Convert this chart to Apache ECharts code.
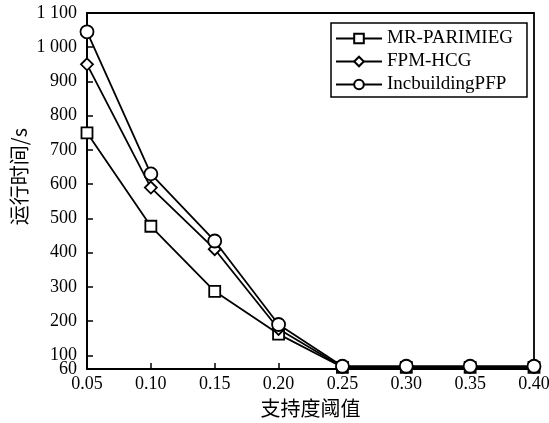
<!DOCTYPE html>
<html><head><meta charset="utf-8">
<script src="https://cdn.jsdelivr.net/npm/echarts@6/dist/echarts.min.js"></script>
<style>html,body{margin:0;padding:0;background:#fff}#c{width:549px;height:423px}</style>
</head><body><div id="c"></div>
<script>
const categories = ['0.05','0.10','0.15','0.20','0.25','0.30','0.35','0.40'];
const mrParimieg = [750, 477, 287, 162, 65, 65, 65, 65];
const fpmHcg = [950, 590, 410, 177, 66, 66, 66, 66];
const incbuildingPfp = [1045, 630, 434, 190, 68, 68, 68, 68];
const yTicks = [100, 200, 300, 400, 500, 600, 700, 800, 900, 1000, 1100];
const yMinTick = [60];
const seriesNames = ['MR-PARIMIEG', 'FPM-HCG', 'IncbuildingPFP'];

const font = '"Liberation Serif","Times New Roman",serif';
const cjk = '"Noto Sans CJK SC",sans-serif';
const chart = echarts.init(document.getElementById('c'));
const mk = (name, data, symbol, size) => ({
  name, type: 'line', data, symbol, symbolSize: size,
  lineStyle: {color: '#000', width: 1.8},
  itemStyle: {color: '#fff', borderColor: '#000', borderWidth: 1.8},
  emphasis: {disabled: true}
});
const fmt = v => v >= 1000 ? String(v).replace(/^(\d)(\d{3})$/, '$1 $2') : String(v);
const yBase = {
  type: 'value', min: 60, max: 1100, position: 'left',
  splitLine: {show: false}
};
chart.setOption({
  animation: false,
  grid: {left: 87, right: 15, top: 13, bottom: 54, outerBoundsMode: 'none', containLabel: false,
    show: true, borderColor: '#000', borderWidth: 1.8, backgroundColor: 'transparent'},
  legend: {
    orient: 'vertical', left: 331, top: 23,
    data: seriesNames,
    borderColor: '#000', borderWidth: 1.5, padding: [6, 14, 3, 4],
    itemGap: 4, itemWidth: 46, itemHeight: 12,
    textStyle: {fontFamily: font, fontSize: 19, color: '#000'}
  },
  graphic: [{
    type: 'text', left: 9, top: 128, rotation: Math.PI / 2,
    style: {text: '运行时间/s', font: '20px ' + cjk, fill: '#000'}
  }],
  xAxis: {
    type: 'category', data: categories, boundaryGap: false,
    name: '支持度阈值', nameLocation: 'middle', nameGap: 29,
    nameTextStyle: {fontFamily: cjk, fontSize: 20, color: '#000'},
    axisLine: {lineStyle: {color: '#000', width: 1.8}},
    axisTick: {inside: true, length: 6, lineStyle: {color: '#000', width: 1.5}},
    axisLabel: {fontFamily: font, fontSize: 18, color: '#000', margin: 6, hideOverlap: false}
  },
  yAxis: [Object.assign({}, yBase, {
    axisLine: {show: true, lineStyle: {color: '#000', width: 1.8}},
    axisTick: {show: true, inside: true, length: 6, customValues: yTicks, lineStyle: {color: '#000', width: 1.5}},
    axisLabel: {fontFamily: font, fontSize: 18, color: '#000', margin: 10, customValues: yTicks,
      hideOverlap: false, showMinLabel: true, showMaxLabel: true, formatter: fmt}
  }), Object.assign({}, yBase, {
    axisLine: {show: false},
    axisTick: {show: false, customValues: yMinTick},
    axisLabel: {fontFamily: font, fontSize: 18, color: '#000', margin: 10, customValues: yMinTick,
      hideOverlap: false, showMinLabel: true, formatter: fmt}
  })],
  series: [
    mk(seriesNames[0], mrParimieg, 'rect', 11),
    mk(seriesNames[1], fpmHcg, 'diamond', 12),
    mk(seriesNames[2], incbuildingPfp, 'circle', 13)
  ]
});
</script></body></html>
